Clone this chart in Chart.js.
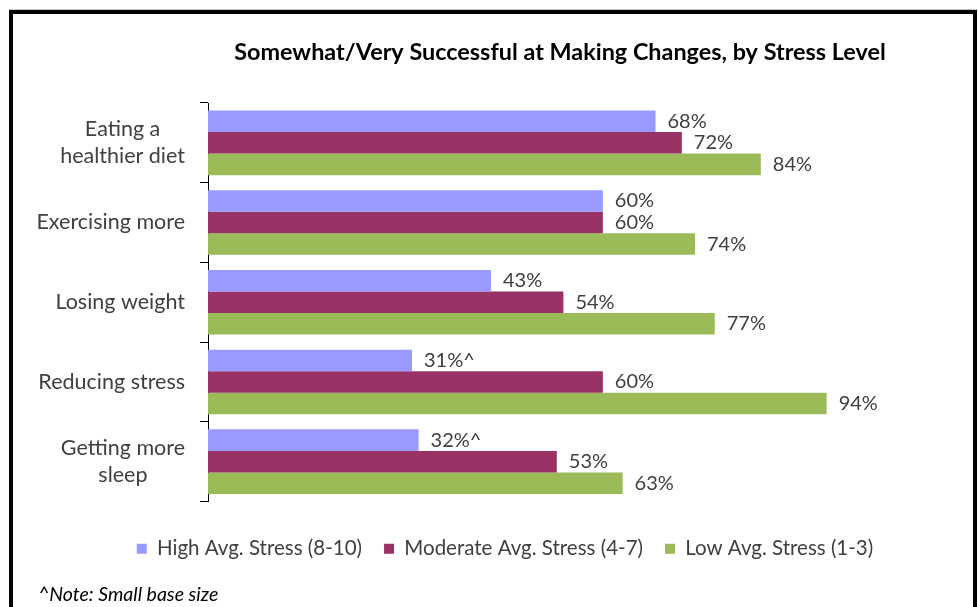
<!DOCTYPE html>
<html>
<head>
<meta charset="utf-8">
<script src="https://cdn.jsdelivr.net/npm/chart.js@4.4.0/dist/chart.umd.min.js"></script>
<style>
  html, body { margin: 0; padding: 0; background: #fff; }
  #wrap { width: 978px; height: 607px; }
</style>
</head>
<body>
<div id="wrap"><canvas id="stressChart" width="978" height="607"></canvas></div>
<script>
// date grafic
var categories = [
  ["Eating a", "healthier diet"],
  ["Exercising more"],
  ["Losing weight"],
  ["Reducing stress"],
  ["Getting more", "sleep"]
]
var seriesNames = ["High Avg. Stress (8-10)", "Moderate Avg. Stress (4-7)", "Low Avg. Stress (1-3)"]
var highStress = [68, 60, 43, 31, 32]
var moderateStress = [72, 60, 54, 60, 53]
var lowStress = [84, 74, 77, 94, 63]
// ^ = small base size
var highSmallBase = [false, false, false, true, true]
var titleText = "Somewhat/Very Successful at Making Changes, by Stress Level"
var noteText = "^Note: Small base size"

var FONT = "Lato, 'Open Sans', sans-serif"
var culori = ["#9999FF", "#993366", "#9BBB59"]

// rama + titlu + nota
var framePlugin = {
  id: "frame",
  beforeDraw: function (chart) {
    var ctx = chart.ctx
    ctx.save()
    ctx.fillStyle = "#fff"
    ctx.fillRect(0, 0, chart.width, chart.height)
    ctx.strokeStyle = "#c8c8c8"
    ctx.lineWidth = 1
    ctx.beginPath()
    ctx.moveTo(9, 9.5)
    ctx.lineTo(978, 9.5)
    ctx.stroke()
    ctx.strokeStyle = "#000"
    ctx.lineWidth = 4
    ctx.strokeRect(11, 12, 964, 700)
    ctx.restore()
  },
  afterDraw: function (chart) {
    var ctx = chart.ctx
    ctx.save()
    ctx.fillStyle = "#000"
    ctx.textAlign = "center"
    ctx.textBaseline = "middle"
    ctx.font = "bold 23.4px " + FONT
    ctx.fillText(titleText, 560, 52)
    ctx.textAlign = "left"
    ctx.font = "italic 19.5px " + FONT
    ctx.fillStyle = "#000"
    ctx.fillText(noteText, 38, 595)
    ctx.restore()
  }
}

// etichete pe axa Y, centrate pe rand, aliniate la dreapta
var yLabelsPlugin = {
  id: "yLabels",
  afterDraw: function (chart) {
    var ctx = chart.ctx
    var y = chart.scales.y
    ctx.save()
    ctx.font = "21.5px " + FONT
    ctx.fillStyle = "#404040"
    ctx.textAlign = "center"
    ctx.textBaseline = "middle"
    var lineH = 27
    var right = y.right - 23
    for (var i = 0; i < categories.length; i++) {
      var lines = categories[i]
      var w = 0
      for (var j = 0; j < lines.length; j++) {
        w = Math.max(w, ctx.measureText(lines[j]).width)
      }
      var cy = y.getPixelForValue(i)
      var startY = cy - (lines.length - 1) * lineH / 2
      for (var k = 0; k < lines.length; k++) {
        ctx.fillText(lines[k], right - w / 2, startY + k * lineH)
      }
    }
    ctx.restore()
  }
}

// valori la capatul barelor
var valueLabelsPlugin = {
  id: "valueLabels",
  afterDatasetsDraw: function (chart) {
    var ctx = chart.ctx
    ctx.save()
    ctx.font = "20px " + FONT
    ctx.fillStyle = "#404040"
    ctx.textAlign = "left"
    ctx.textBaseline = "middle"
    chart.data.datasets.forEach(function (ds, di) {
      var meta = chart.getDatasetMeta(di)
      meta.data.forEach(function (bar, i) {
        var txt = ds.data[i] + "%"
        if (di === 0 && highSmallBase[i]) txt += "^"
        ctx.fillText(txt, bar.x + 12, bar.y)
      })
    })
    ctx.restore()
  }
}

var ctx = document.getElementById("stressChart").getContext("2d")
new Chart(ctx, {
  type: "bar",
  data: {
    labels: categories.map(function (c) { return c.join(" ") }),
    datasets: [
      { label: seriesNames[0], data: highStress, backgroundColor: culori[0] },
      { label: seriesNames[1], data: moderateStress, backgroundColor: culori[1] },
      { label: seriesNames[2], data: lowStress, backgroundColor: culori[2] }
    ]
  },
  options: {
    indexAxis: "y",
    responsive: false,
    animation: false,
    layout: { padding: { left: 32, right: 0, top: 103, bottom: 38 } },
    datasets: { bar: { categoryPercentage: 0.81, barPercentage: 1, borderWidth: 0 } },
    plugins: {
      title: { display: false },
      tooltip: { enabled: false },
      legend: {
        display: true,
        position: "bottom",
        labels: {
          boxWidth: 10,
          boxHeight: 10,
          padding: 22,
          color: "#404040",
          font: { family: FONT, size: 20.5 }
        }
      }
    },
    scales: {
      x: {
        min: 0,
        max: 117,
        display: true,
        ticks: { display: false },
        grid: { display: false },
        border: { display: false },
        afterFit: function (s) { s.height = 15 }
      },
      y: {
        display: true,
        ticks: { display: false },
        grid: {
          display: true,
          offset: true,
          drawOnChartArea: false,
          drawTicks: true,
          tickLength: 8,
          color: "#000"
        },
        border: { display: true, color: "#000", width: 1 },
        afterFit: function (s) { s.width = 176 }
      }
    }
  },
  plugins: [framePlugin, yLabelsPlugin, valueLabelsPlugin]
})
</script>
</body>
</html>
